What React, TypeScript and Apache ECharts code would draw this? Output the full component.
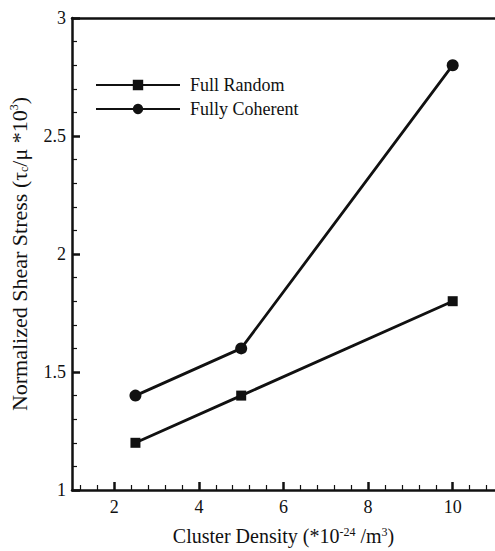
import React, { useEffect, useRef } from "react";
import * as echarts from "echarts";

const clusterDensity = [2.5, 5, 10];
const fullRandom = [1.2, 1.4, 1.8];
const fullyCoherent = [1.4, 1.6, 2.8];
const seriesNames = ["Full Random", "Fully Coherent"];
const xMajorTicks = [2, 4, 6, 8, 10];
const xMinorTicks = [1.2, 1.6, 2.4, 2.8, 3.2, 3.6, 4.4, 4.8, 5.2, 5.6, 6.4, 6.8, 7.2, 7.6, 8.4, 8.8, 9.2, 9.6, 10.4, 10.8];

const FONT = "Liberation Serif";
const INK = "#111111";

export default function App() {
  const ref = useRef<HTMLDivElement>(null);
  useEffect(() => {
    if (!ref.current) return;
    const chart = echarts.init(ref.current, undefined, { renderer: "svg" });
    const pairs = (ys: number[]) => clusterDensity.map((x, i) => [x, ys[i]]);
    chart.setOption({
      animation: false,
      backgroundColor: "#ffffff",
      textStyle: { fontFamily: FONT, color: INK },
      grid: { left: 70, top: 18, right: -1, bottom: 60, containLabel: false },
      legend: {
        orient: "vertical",
        left: 90,
        top: 71,
        itemWidth: 84,
        itemHeight: 13,
        itemGap: 6,
        textStyle: { fontFamily: FONT, fontSize: 18, color: INK, padding: [0, 0, 0, 5] },
        data: seriesNames,
      },
      xAxis: [
        {
          type: "value",
          min: 1,
          max: 11,
          position: "bottom",
          axisLine: { show: true, onZero: false, lineStyle: { color: INK, width: 2.5 } },
          axisTick: {
            show: true,
            inside: true,
            length: 8,
            customValues: xMajorTicks,
            lineStyle: { color: INK, width: 2.5 },
          },
          splitLine: { show: false },
          axisLabel: {
            fontFamily: FONT,
            fontSize: 18,
            color: INK,
            margin: 8,
            customValues: xMajorTicks,
          },
          name: "{t|Cluster Density (*10}{s|-24}{t| /m}{s|3}{t|)}",
          nameLocation: "middle",
          nameGap: 36,
          nameTextStyle: {
            rich: {
              t: { fontFamily: FONT, fontSize: 20, color: INK, verticalAlign: "bottom", lineHeight: 20 },
              s: { fontFamily: FONT, fontSize: 12, color: INK, verticalAlign: "top", lineHeight: 20 },
            },
          },
        },
        {
          type: "value",
          min: 1,
          max: 11,
          position: "bottom",
          axisLine: { show: false },
          axisTick: {
            show: true,
            inside: true,
            length: 5,
            customValues: xMinorTicks,
            lineStyle: { color: INK, width: 1.2 },
          },
          axisLabel: { show: false },
          splitLine: { show: false },
        },
        {
          type: "value",
          min: 1,
          max: 11,
          position: "top",
          axisLine: { show: true, onZero: false, lineStyle: { color: INK, width: 2.5 } },
          axisTick: { show: false },
          axisLabel: { show: false },
          splitLine: { show: false },
        },
      ],
      yAxis: {
        type: "value",
        min: 1,
        max: 3,
        interval: 0.5,
        axisLine: { show: true, onZero: false, lineStyle: { color: INK, width: 2.5 } },
        axisTick: { show: true, inside: true, length: 8, lineStyle: { color: INK, width: 2.5 } },
        minorTick: { show: true, splitNumber: 5, length: 5, lineStyle: { color: INK, width: 1.2 } },
        splitLine: { show: false },
        axisLabel: { fontFamily: FONT, fontSize: 18, color: INK, margin: 6 },
        name: "{t|Normalized Shear Stress (τ}{b|c}{t|/μ *10}{s|3}{t|)}",
        nameLocation: "middle",
        nameRotate: 90,
        nameGap: 42,
        nameTextStyle: {
          rich: {
            t: { fontFamily: FONT, fontSize: 22, color: INK, verticalAlign: "bottom", lineHeight: 22 },
            s: { fontFamily: FONT, fontSize: 12, color: INK, verticalAlign: "top", lineHeight: 22 },
            b: { fontFamily: FONT, fontSize: 12, color: INK, verticalAlign: "bottom", lineHeight: 18 },
          },
        },
      },
      series: [
        {
          name: seriesNames[0],
          type: "line",
          data: pairs(fullRandom),
          symbol: "rect",
          symbolSize: 10,
          itemStyle: { color: INK },
          lineStyle: { color: INK, width: 2.8 },
        },
        {
          name: seriesNames[1],
          type: "line",
          data: pairs(fullyCoherent),
          symbol: "circle",
          symbolSize: 12,
          itemStyle: { color: INK },
          lineStyle: { color: INK, width: 2.8 },
        },
      ],
    });
    return () => chart.dispose();
  }, []);
  return (
    <div
      ref={ref}
      style={{ position: "fixed", left: 0, top: 0, width: 495, height: 551, background: "#fff" }}
    />
  );
}
